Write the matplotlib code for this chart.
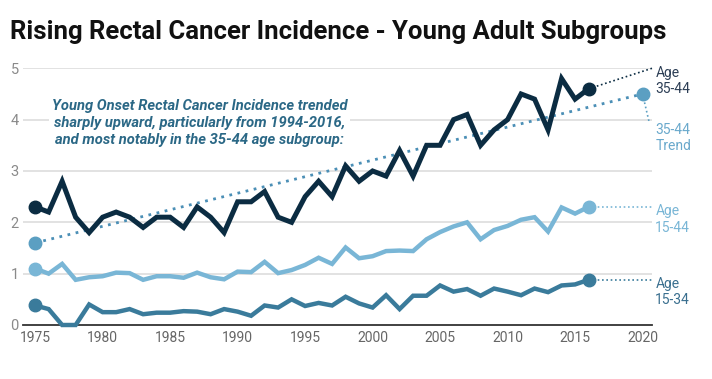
import matplotlib.pyplot as plt
import numpy as np

#--- data

years = np.arange(1975, 2017)
age_35_44 = [2.3, 2.2, 2.8, 2.1, 1.8, 2.1, 2.2, 2.1, 1.9, 2.1,
             2.1, 1.9, 2.3, 2.1, 1.8, 2.4, 2.4, 2.6, 2.1, 2.0,
             2.5, 2.8, 2.5, 3.1, 2.8, 3.0, 2.9, 3.4, 2.9, 3.5,
             3.5, 4.0, 4.1, 3.5, 3.8, 4.0, 4.5, 4.4, 3.8, 4.8,
             4.4, 4.6]
age_15_44 = [1.10, 1.00, 1.19, 0.88, 0.93, 0.95, 1.02, 1.01, 0.88, 0.95,
             0.95, 0.92, 1.02, 0.93, 0.89, 1.04, 1.03, 1.23, 1.01, 1.07,
             1.17, 1.31, 1.19, 1.51, 1.30, 1.34, 1.44, 1.45, 1.44, 1.67,
             1.81, 1.92, 2.00, 1.67, 1.85, 1.93, 2.05, 2.10, 1.82, 2.29,
             2.17, 2.30]
age_15_34 = [0.38, 0.31, 0.00, 0.00, 0.40, 0.25, 0.25, 0.31, 0.21, 0.24,
             0.24, 0.27, 0.26, 0.21, 0.31, 0.26, 0.18, 0.38, 0.34, 0.50,
             0.37, 0.43, 0.38, 0.55, 0.42, 0.34, 0.58, 0.31, 0.57, 0.57,
             0.77, 0.65, 0.70, 0.57, 0.71, 0.65, 0.58, 0.71, 0.64, 0.77,
             0.79, 0.88]
trend_years = [1975, 2020]
trend_35_44 = [1.6, 4.5]

x_ticks = list(range(1975, 2021, 5))
y_ticks = [0, 1, 2, 3, 4, 5]

title = 'Rising Rectal Cancer Incidence - Young Adult Subgroups'
note = ('Young Onset Rectal Cancer Incidence trended\n'
        'sharply upward, particularly from 1994-2016,\n'
        'and most notably in the 35-44 age subgroup:')

#--- style

plt.rcParams['font.family'] = ['Roboto', 'DejaVu Sans']
c_dark = '#0b2c42'
c_light = '#79b6d6'
c_teal = '#3a7b9b'
c_trend = '#4b8fb6'
c_trend_dot = '#5b9fc2'

fig = plt.figure(figsize=(7.12, 3.79), dpi=100)
ax = fig.add_axes([23/712, 1 - 325/379, 629/712, 256.7/379])
ax.set_xlim(1974.1, 2020.7)
ax.set_ylim(0, 5)

for s in ['top', 'right', 'left']:
    ax.spines[s].set_visible(False)
ax.spines['bottom'].set_color('#333333')
ax.spines['bottom'].set_linewidth(1.3)
ax.set_yticks(y_ticks)
ax.set_xticks(x_ticks)
ax.tick_params(axis='both', length=0)
ax.tick_params(axis='y', labelsize=10.5, labelcolor='#8a8a8a', pad=3)
ax.tick_params(axis='x', labelsize=10, labelcolor='#666666', pad=4)
for t in y_ticks[1:]:
    ax.axhline(t, color='#e2e2e2', lw=1.4, zorder=0)

#--- trend
ax.plot(trend_years, trend_35_44, ls=(0, (1, 2)), lw=2, color=c_trend, zorder=2)
ax.plot(trend_years, trend_35_44, 'o', ms=9, color=c_trend_dot, zorder=3, clip_on=False)

#--- series
for vals, col, lw in [(age_15_34, c_teal, 3.2), (age_15_44, c_light, 3.2), (age_35_44, c_dark, 3.6)]:
    ax.plot(years, vals, color=col, lw=lw, solid_joinstyle='miter', zorder=4, clip_on=False)
    ax.plot([years[0], years[-1]], [vals[0], vals[-1]], 'o', ms=9, color=col, zorder=5, clip_on=False)

#--- leader lines and labels
x_end = 2020.7
ax.plot([years[-1], x_end], [age_35_44[-1], 5.0], ls=(0, (1, 1.6)), lw=1.2, color=c_dark, clip_on=False, zorder=3)
ax.plot([years[-1], x_end], [age_15_44[-1]] * 2, ls=(0, (1, 1.6)), lw=1.2, color=c_light, clip_on=False, zorder=3)
ax.plot([years[-1], x_end], [age_15_34[-1]] * 2, ls=(0, (1, 1.6)), lw=1.2, color=c_teal, clip_on=False, zorder=3)
ax.plot([trend_years[-1], 2020.5], [trend_35_44[-1], 3.94], ls=(0, (1, 1.6)), lw=1.2, color=c_trend_dot, clip_on=False, zorder=3)

lab_x = 2020.95
lab_kw = dict(fontsize=10, linespacing=1.2, va='top', ha='left', clip_on=False)
ax.text(lab_x, 5.05, 'Age\n35-44', color='#2c3e55', **lab_kw)
ax.text(lab_x, 3.94, '35-44\nTrend', color='#6aa9cc', **lab_kw)
ax.text(lab_x, 2.35, 'Age\n15-44', color=c_light, **lab_kw)
ax.text(lab_x, 0.93, 'Age\n15-34', color='#3a6f8f', **lab_kw)

ax.text(1987.2, 3.93, note, ha='center', va='center', fontsize=10.6, fontweight='bold',
        fontstyle='italic', color='#2b6886', linespacing=1.25,
        bbox=dict(facecolor='white', edgecolor='none', pad=2), zorder=6)

fig.text(10/712, 1 - 32/379, title, fontsize=18.5, fontweight='bold', color='#111111',
         ha='left', va='center')

plt.savefig('out.png', dpi=100)
plt.close()
